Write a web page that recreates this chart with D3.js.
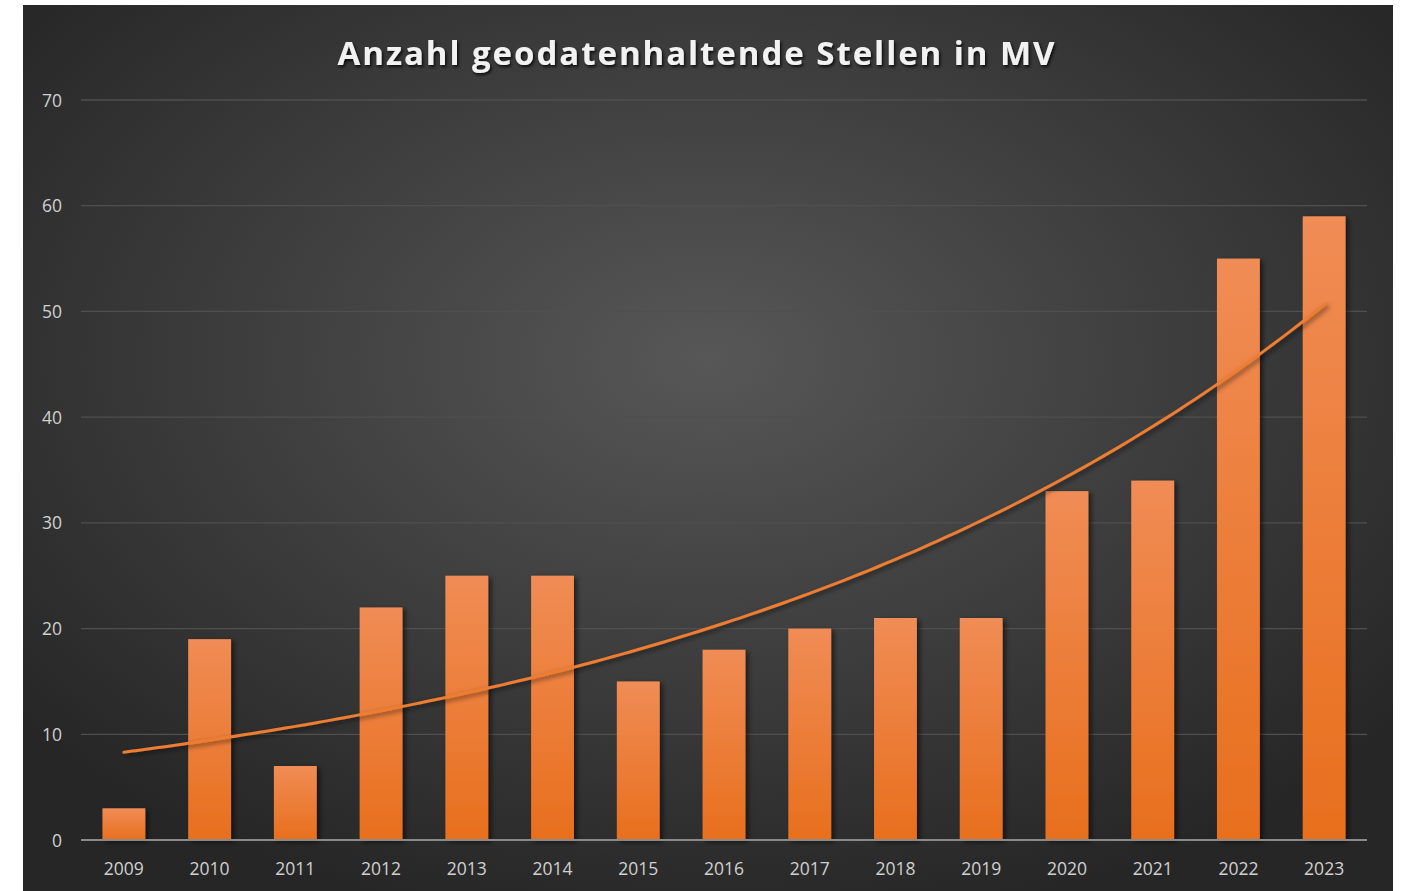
<!DOCTYPE html>
<html><head><meta charset="utf-8">
<script src="https://cdn.jsdelivr.net/npm/d3@7"></script>
<style>html,body{margin:0;padding:0;background:#fff;}svg{display:block;}</style>
</head><body>
<script>
const years = ["2009","2010","2011","2012","2013","2014","2015","2016","2017","2018","2019","2020","2021","2022","2023"];
const counts = [3,19,7,22,25,25,15,18,20,21,21,33,34,55,59];
const yTicks = [0,10,20,30,40,50,60,70];
const title = "Anzahl geodatenhaltende Stellen in MV";

const W = 1403, H = 891;
const svg = d3.select("body").append("svg").attr("width", W).attr("height", H);
const defs = svg.append("defs");

const bg = defs.append("radialGradient").attr("id","bg").attr("cx","50%").attr("cy","40%").attr("r","65%");
bg.append("stop").attr("offset","0%").attr("stop-color","#575757");
bg.append("stop").attr("offset","100%").attr("stop-color","#262626");

const bar = defs.append("linearGradient").attr("id","bar").attr("x1",0).attr("y1",0).attr("x2",0).attr("y2",1);
bar.append("stop").attr("offset","0%").attr("stop-color","#F08C55");
bar.append("stop").attr("offset","100%").attr("stop-color","#E86F1D");

const sh = defs.append("filter").attr("id","sh").attr("x","-20%").attr("y","-20%").attr("width","150%").attr("height","150%");
sh.append("feDropShadow").attr("dx",3).attr("dy",2).attr("stdDeviation",2.5).attr("flood-color","#000").attr("flood-opacity",0.55);
const tsh = defs.append("filter").attr("id","tsh");
tsh.append("feDropShadow").attr("dx",1.5).attr("dy",2).attr("stdDeviation",1.5).attr("flood-color","#000").attr("flood-opacity",0.8);

svg.append("rect").attr("x",23).attr("y",5).attr("width",1370).attr("height",H-5).attr("fill","url(#bg)");

const x = d3.scaleBand().domain(years).range([81,1367]).paddingInner(0.5).paddingOuter(0.25);
const y = d3.scaleLinear().domain([0,70]).range([840,100]);

// gridlines
svg.append("g").selectAll("line").data(yTicks.filter(d=>d>0)).join("line")
  .attr("x1",81).attr("x2",1367).attr("y1",d=>y(d)).attr("y2",d=>y(d))
  .attr("stroke","#4f4f4f").attr("stroke-width",1.3);

// y axis labels
const yAxis = d3.axisLeft(y).tickValues(yTicks).tickSize(0).tickPadding(0);
const gy = svg.append("g").attr("transform","translate(62,0)").call(yAxis);
gy.select(".domain").remove();
gy.selectAll("text").attr("fill","#d0d0d0").attr("font-family","'Open Sans', sans-serif").attr("font-size",17.5).attr("dy","0.35em");

// bars
svg.append("g").selectAll("rect").data(counts).join("rect")
  .attr("x",(d,i)=>x(years[i])).attr("width",x.bandwidth())
  .attr("y",d=>y(d)).attr("height",d=>y(0)-y(d))
  .attr("fill","url(#bar)").attr("filter","url(#sh)");

// baseline
svg.append("line").attr("x1",81).attr("x2",1367).attr("y1",y(0)).attr("y2",y(0))
  .attr("stroke","#8a8a8a").attr("stroke-width",2.2);

// x axis labels
const xAxis = d3.axisBottom(x).tickSize(0).tickPadding(0);
const gx = svg.append("g").attr("transform","translate(0,869)").call(xAxis);
gx.select(".domain").remove();
gx.selectAll("text").attr("fill","#d0d0d0").attr("font-family","'Open Sans', sans-serif").attr("font-size",17.5).attr("dy","0.35em");

// exponential trendline (least-squares fit of ln(y) on index, as Excel does)
const n = counts.length;
const xs = counts.map((d,i)=>i+1);
const ls = counts.map(d=>Math.log(d));
const mx = d3.mean(xs), ml = d3.mean(ls);
const b = d3.sum(xs.map((v,i)=>(v-mx)*(ls[i]-ml))) / d3.sum(xs.map(v=>(v-mx)*(v-mx)));
const a = Math.exp(ml - b*mx);
const trend = d3.range(0, 14.001, 0.1).map(t => ({t, v: a*Math.exp(b*(t+1))}));
const tx = d3.scaleLinear().domain([0,n-1]).range([x(years[0])+x.bandwidth()/2, x(years[n-1])+x.bandwidth()/2]);
svg.append("path").datum(trend)
  .attr("d", d3.line().x(d=>tx(d.t)).y(d=>y(d.v)).curve(d3.curveMonotoneX))
  .attr("fill","none").attr("stroke","#ED7D31").attr("stroke-width",3).attr("stroke-linecap","round")
  .attr("filter","url(#sh)");

// title
svg.append("text").attr("x",696).attr("y",65).attr("text-anchor","middle")
  .attr("font-family","'Open Sans', sans-serif").attr("font-weight","bold").attr("font-size",33)
  .attr("fill","#f2f2f2").attr("textLength",717).attr("lengthAdjust","spacing")
  .attr("filter","url(#tsh)").text(title);
</script>
</body></html>
